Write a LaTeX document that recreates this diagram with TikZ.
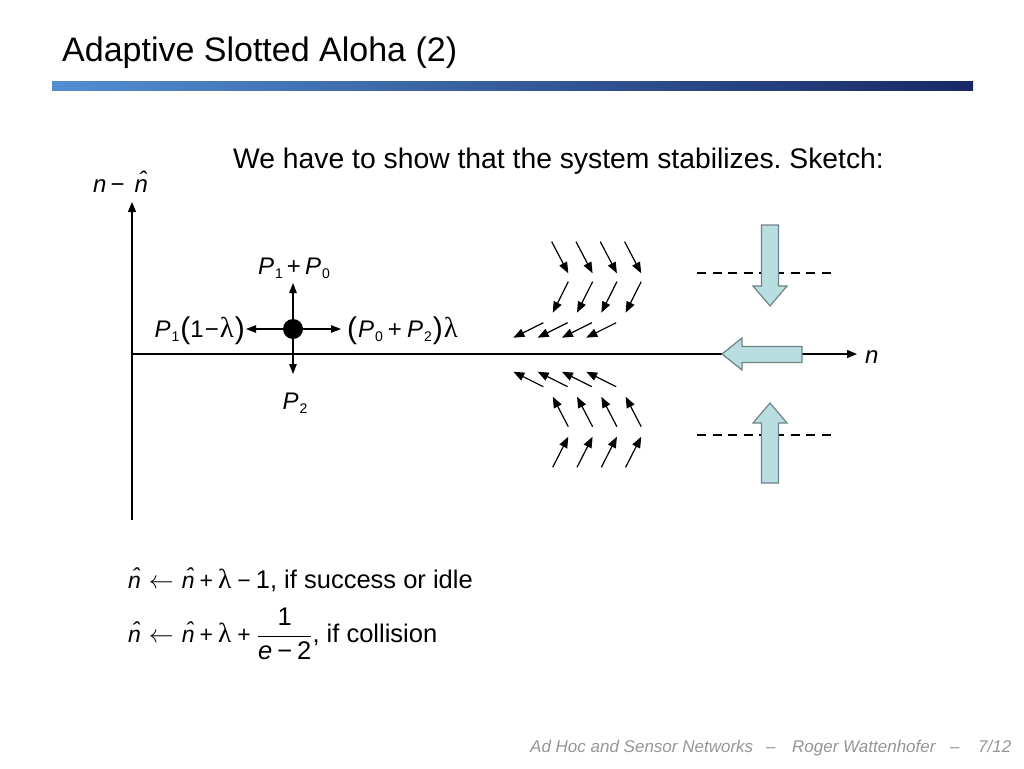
\documentclass[tikz,border=0pt]{standalone}
\usepackage{fontspec}
\setmainfont{Liberation Sans}
\newfontfamily\lamfont{Liberation Serif}
\usetikzlibrary{arrows.meta}
\newcommand\fsz[1]{\fontsize{#1}{#1}\selectfont}
\newcommand\lam{\scalebox{1.2}{\lamfont λ}}
\newcommand\nh{{\itshape\^{n}}}
\newcommand\larr{{\fsz{27}$\leftarrow$}}
\newcommand\Psub[1]{{\itshape P}\hspace{1pt}{\fsz{14}\raisebox{-4pt}{#1}}}
\newcommand\bigpar[1]{{\fsz{30}\raisebox{-1pt}{#1}}}
\definecolor{barL}{RGB}{82,142,208}
\definecolor{barR}{RGB}{24,40,102}
\definecolor{blk}{RGB}{184,222,226}
\definecolor{blkline}{RGB}{112,132,134}
\definecolor{foot}{RGB}{150,150,150}
\tikzset{
  axisline/.style={line width=1.3pt,-{Triangle[length=10pt,width=8pt]}},
  fieldarr/.style={line width=1.2pt,-{Triangle[length=11pt,width=8.5pt]}},
  dotarr/.style={line width=1.2pt,-{Triangle[length=10pt,width=7.5pt]}},
  blockarrow/.style={fill=blk,draw=blkline,line width=1.2pt,line join=miter},
  dashline/.style={line width=1.6pt,dash pattern=on 9pt off 6.6pt},
  lbl/.style={inner sep=0pt,font=\fsz{24}},
}
\begin{document}
\frenchspacing
\begin{tikzpicture}[x=1pt,y=-1pt]
\useasboundingbox[fill=white] (0,0) rectangle (1024,768);
% title and bar
\node[anchor=base west,inner sep=0pt,font=\fsz{34}] (title) at (62,62) {Adaptive Slotted Aloha (2)};
\shade[left color=barL,right color=barR] (52,81) rectangle (973,90);
\node[anchor=base west,inner sep=0pt,font=\fsz{28.3}] (intro) at (233,168) {We have to show that the system stabilizes. Sketch:};
% axes
\coordinate (origin) at (132,354);
\coordinate (ybot) at (132,520);
\coordinate (ytop) at (132,202);
\coordinate (xend) at (857,354);
\draw[line width=1.3pt] (ybot) -- (origin);
\draw[axisline] (origin) -- (ytop);
\draw[axisline] (origin) -- (xend);
\node[anchor=base west,inner sep=0pt,font=\fsz{24}] (ylab) at (93,192) {{\itshape n}\hspace{4pt}−\hspace{10pt}\nh};
\node[anchor=base west,inner sep=0pt,font=\fsz{24}] (xlab) at (865,363) {\itshape n};
% dot with arrows
\node[circle,fill=black,minimum size=20pt,inner sep=0pt] (dot) at (293,329) {};
\coordinate (up) at (293,283);
\coordinate (down) at (293,374);
\coordinate (left) at (246,329);
\coordinate (right) at (341,329);
\draw[dotarr] (dot) -- (up);
\draw[dotarr] (dot) -- (down);
\draw[dotarr] (dot) -- (left);
\draw[dotarr] (dot) -- (right);
\node[lbl,anchor=base] (lup) at (294,274) {\Psub{1}\hspace{4pt}+\hspace{4pt}\Psub{0}};
\node[lbl,anchor=base east] (lleft) at (245,337) {\Psub{1}\hspace{1pt}\bigpar{(}1\hspace{1pt}−\hspace{1pt}\lam\hspace{1pt}\bigpar{)}};
\node[lbl,anchor=base west] (lright) at (347,337) {\bigpar{(}\hspace{1pt}\Psub{0}\hspace{5pt}+\hspace{5pt}\Psub{2}\hspace{1pt}\bigpar{)}\hspace{1pt}\lam};
\node[lbl,anchor=base] (ldown) at (295,409) {\Psub{2}};
% field arrows
\foreach \i in {0,1,2,3}{
  \pgfmathsetmacro{\dx}{24.3*\i}
  \draw[fieldarr] (551.7+\dx,241.7) -- (568.3+\dx,273.3);
  \draw[fieldarr] (568.3+\dx,281.7) -- (552.7+\dx,312.7);
  \draw[fieldarr] (543.3+\dx,322.7) -- (513.3+\dx,337.7);
  \draw[fieldarr] (543.3+\dx,386.7) -- (513.3+\dx,371.7);
  \draw[fieldarr] (568.3+\dx,426.7) -- (552.7+\dx,396.7);
  \draw[fieldarr] (552.7+\dx,467.3) -- (568.3+\dx,436.7);
}
% dashed lines
\draw[dashline] (697,273) -- (831,273);
\draw[dashline] (697,435) -- (831,435);
% block arrows
\draw[blockarrow] (761.5,225) -- (778.5,225) -- (778.5,286) -- (787,286) -- (770,306) -- (753,286) -- (761.5,286) -- cycle;
\draw[blockarrow] (761.5,483) -- (778.5,483) -- (778.5,423) -- (787,423) -- (770,403) -- (753,423) -- (761.5,423) -- cycle;
\draw[blockarrow] (802,346.5) -- (802,362.5) -- (742,362.5) -- (742,370) -- (722,354) -- (742,338) -- (742,346.5) -- cycle;
% formulas
\node[anchor=base west,inner sep=0pt,font=\fsz{23}] (f1) at (128,588) {\nh\hspace{8pt}\larr\hspace{8pt}\nh\hspace{5pt}+\hspace{5pt}\lam\hspace{6pt}−\hspace{5pt}{\fsz{25.5}1, if success or idle}};
\node[anchor=base west,inner sep=0pt,font=\fsz{23}] (f2) at (128,642) {\nh\hspace{8pt}\larr\hspace{8pt}\nh\hspace{5pt}+\hspace{5pt}\lam\hspace{6pt}+\hspace{6pt}{\fsz{25.5}$\displaystyle\frac{\hbox{1}}{\hbox{{\itshape e}\hspace{5pt}−\hspace{5pt}2}}$, if collision}};
% footer
\node[anchor=base west,inner sep=0pt,font=\fsz{17}\itshape,text=foot] (ft1) at (530,752) {Ad Hoc and Sensor Networks};
\node[anchor=base west,inner sep=0pt,font=\fsz{17},text=foot] (ft2) at (766,752) {–};
\node[anchor=base west,inner sep=0pt,font=\fsz{17}\itshape,text=foot] (ft3) at (792,752) {Roger Wattenhofer};
\node[anchor=base west,inner sep=0pt,font=\fsz{17},text=foot] (ft4) at (950,752) {–};
\node[anchor=base west,inner sep=0pt,font=\fsz{17}\itshape,text=foot] (ft5) at (978,752) {7/12};
\end{tikzpicture}
\end{document}
